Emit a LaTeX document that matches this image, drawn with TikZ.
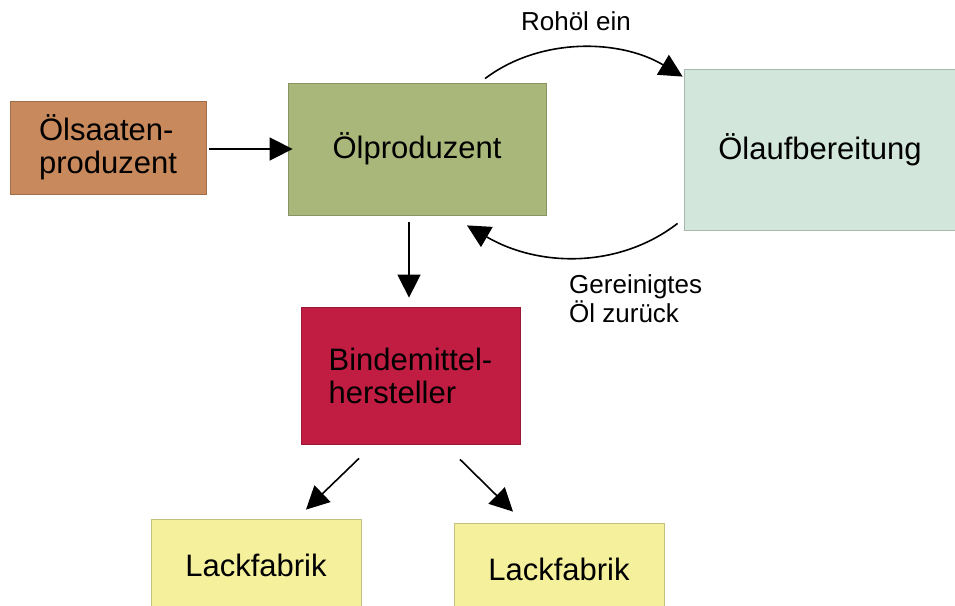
\documentclass[tikz,border=0pt]{standalone}
\usepackage{fontspec}
\setmainfont{Liberation Sans}
\usetikzlibrary{arrows.meta}
\definecolor{cSaat}{RGB}{200,137,92}
\definecolor{cProd}{RGB}{170,183,122}
\definecolor{cAufb}{RGB}{211,230,219}
\definecolor{cBinde}{RGB}{193,29,66}
\definecolor{cLack}{RGB}{245,240,156}
\tikzset{
  box/.style={rectangle, inner sep=0pt, font=\fontsize{31}{33}\selectfont, align=left, draw=#1!80!black, line width=0.8pt, fill=#1},
  lbl/.style={font=\fontsize{26}{29}\selectfont, align=left, inner sep=0pt},
  arr/.style={line width=1.6pt, -{Triangle[length=23pt,width=23pt]}}
}
\begin{document}
\begin{tikzpicture}[x=1pt,y=-1pt]
\clip (0,0) rectangle (955,605);
\fill[white] (0,0) rectangle (955,605);
\node[box=cSaat, minimum width=196pt, minimum height=93pt] (saat) at (108,147.5) {Ölsaaten-\\produzent};
\node[box=cProd, minimum width=258pt, minimum height=132pt] (prod) at (417,149) {Ölproduzent};
\node[box=cAufb, minimum width=272pt, minimum height=161pt] (aufb) at (820,149.5) {Ölaufbereitung};
\node[box=cBinde, minimum width=219pt, minimum height=137pt] (binde) at (410.5,375.5) {Bindemittel-\\hersteller};
\node[box=cLack, minimum width=210pt, minimum height=92pt] (lackA) at (256,565) {Lackfabrik};
\node[box=cLack, minimum width=210pt, minimum height=92pt] (lackB) at (559,569) {Lackfabrik};
\node[lbl] (rohl) at (576,21) {Rohöl ein};
\node[lbl, anchor=west] (gerl) at (569,298.5) {Gereinigtes\\Öl zurück};
% connectors
\coordinate (rohS) at ([shift={(68,-4)}]prod.north);
\coordinate (rohE) at ([shift={(-1,8)}]aufb.north west);
\coordinate (gerS) at ([shift={(-6,-7)}]aufb.south west);
\coordinate (gerE) at ([shift={(50,10)}]prod.south);
\draw[arr] ([shift={(3,1.5)}]saat.east) -- ([xshift=5pt]prod.west);
\draw[arr] (rohS) .. controls (540,37) and (620,39) .. (rohE);
\draw[arr] (gerS) .. controls (620,268) and (540,268) .. (gerE);
\draw[arr] ([shift={(-8,7)}]prod.south) -- ([shift={(-1.5,-9)}]binde.north);
\draw[arr] ([shift={(-51.5,14)}]binde.south) -- ([shift={(50,-9)}]lackA.north);
\draw[arr] ([shift={(49.5,15)}]binde.south) -- ([shift={(-46,-11)}]lackB.north);
\end{tikzpicture}
\end{document}
